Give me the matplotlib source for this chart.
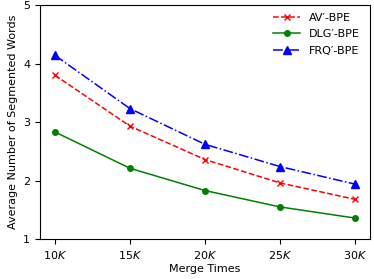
import numpy as np
from matplotlib import pyplot as plt

merges = [10, 15, 20, 25, 30]
xlabels = ['10$K$', '15$K$', '20$K$', '25$K$', '30$K$']
av = [3.80, 2.93, 2.36, 1.96, 1.68]
dlg = [2.83, 2.21, 1.83, 1.55, 1.36]
frq = [4.14, 3.23, 2.62, 2.24, 1.94]

plt.rcParams['font.size'] = 8

fig = plt.figure(figsize=(3.74, 2.79), dpi=100)
ax = fig.add_axes([0.107, 0.143, 0.882, 0.839])

ax.plot(merges, av, 'rx--', label='AV\u2032-BPE', markersize=5, linewidth=1.1)
ax.plot(merges, dlg, 'go-', label='DLG\u2032-BPE', markersize=4, linewidth=1.1)
ax.plot(merges, frq, 'b^-.', label='FRQ\u2032-BPE', markersize=6, linewidth=1.1)

ax.set_xticks(merges)
ax.set_xticklabels(xlabels)
ax.set_yticks([1, 2, 3, 4, 5])
ax.set_ylim(1, 5)
ax.set_xlabel('Merge Times', labelpad=2)
ax.set_ylabel('Average Number of Segmented Words')
ax.legend(frameon=False, loc='upper right', labelspacing=0.6, handlelength=2.4,
          bbox_to_anchor=(1.0, 1.01))

fig.savefig('out.png', dpi=100)
